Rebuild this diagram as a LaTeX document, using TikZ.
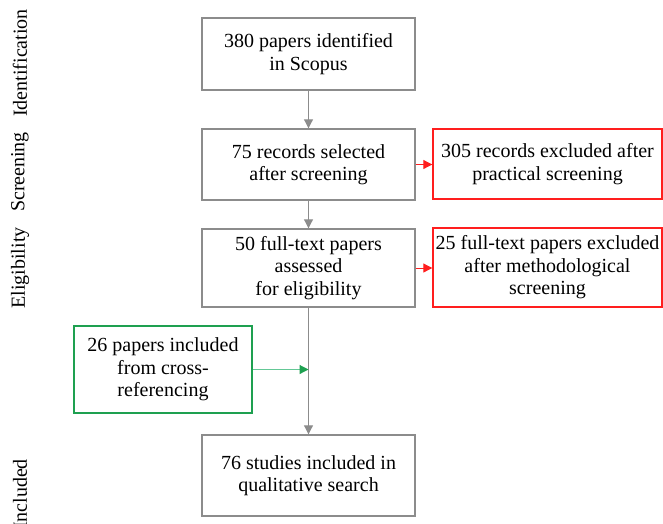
\documentclass[tikz,border=0pt]{standalone}
\usepackage{fontspec}
\setmainfont{Liberation Serif}
\usetikzlibrary{positioning,calc,arrows.meta}

\definecolor{boxgray}{RGB}{140,140,140}
\definecolor{exred}{RGB}{255,30,30}
\definecolor{incgreen}{RGB}{30,160,80}
\definecolor{linegreen}{RGB}{100,200,150}

\tikzset{
  txt/.style={font=\rmfamily\fontsize{20}{22.5}\selectfont},
  stagebox/.style={txt,draw=boxgray,line width=1.4pt,align=center,minimum width=213pt,inner sep=2pt},
  exbox/.style={txt,draw=exred,line width=1.4pt,align=center,minimum width=229pt,inner sep=2pt},
  addbox/.style={txt,draw=incgreen,line width=1.4pt,align=center,minimum width=178pt,inner sep=2pt},
  phase/.style={txt,rotate=90,anchor=center},
  flow/.style={boxgray,line width=1pt,-{Triangle[width=9pt,length=9pt]}},
  exflow/.style={exred,line width=1pt,-{Triangle[width=9pt,length=9pt]}},
  addflow/.style={linegreen,line width=1.2pt,-{Triangle[width=9pt,length=9pt,color=incgreen]}}
}

\begin{document}
\begin{tikzpicture}[x=1pt,y=-1pt]
\useasboundingbox (0,0) rectangle (663,523);
% stages
\node[phase] (lid) at (20,63) {Identification};
\node[phase] (lscr) at (20,172) {Screening};
\node[phase] (lelig) at (20,268) {Eligibility};
\node[phase] (linc) at (20,494) {Included};
% main column
\node[stagebox,minimum height=72pt] (idf) at (308.5,54) {380 papers identified\\in Scopus};
\node[stagebox,minimum height=71pt] (scr) at (308.5,164.5) {75 records selected\\after screening};
\node[stagebox,minimum height=78pt] (elig) at (308.5,268) {50 full-text papers\\assessed\\for eligibility};
\node[stagebox,minimum height=81pt] (incl) at (308.5,475.5) {76 studies included in\\qualitative search};
% excluded
\node[exbox,minimum height=70pt] (ex1) at (547.5,164) {305 records excluded after\\practical screening};
\node[exbox,minimum height=79pt] (ex2) at (547.5,267.5) {25 full-text papers excluded\\after methodological\\screening};
% cross-referencing
\node[addbox,minimum height=87pt] (cross) at (163,369.5) {26 papers included\\from cross-\\referencing};
\coordinate (join) at (elig.south |- cross.east);
\draw[flow] (idf)--(scr);
\draw[flow] (scr)--(elig);
\draw[flow] (elig)--(incl);
\draw[exflow] (scr.east)--(scr.east -| ex1.west);
\draw[exflow] (elig.east)--(elig.east -| ex2.west);
\draw[addflow] (cross.east)--(join);
\end{tikzpicture}
\end{document}
